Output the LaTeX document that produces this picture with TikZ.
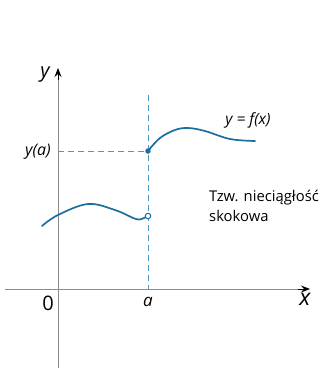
\documentclass[tikz,border=0pt]{standalone}
\usepackage{fontspec}
\setmainfont{Open Sans}
\usetikzlibrary{arrows.meta}
\definecolor{curve}{HTML}{1B6E9E}
\definecolor{dashc}{HTML}{4A98C6}
\definecolor{axisc}{HTML}{8C8C8C}
\tikzset{
  axis/.style={draw=axisc, line width=0.9pt},
  tip/.style={-{Stealth[length=9pt,width=7pt,inset=3pt]}},
  guide/.style={draw=dashc, line width=0.9pt, dash pattern=on 6pt off 4pt},
  fcurve/.style={draw=curve, line width=1.7pt, line cap=round},
  lab/.style={inner sep=0pt, font=\itshape},
}
\begin{document}
\begin{tikzpicture}[x=1pt,y=-1pt]
\useasboundingbox (0,0) rectangle (322,368);
\coordinate (ybot) at (58,368);
\coordinate (ytop) at (58,68);
\coordinate (xl) at (5,289);
\coordinate (xr) at (310,289);
\coordinate (atop) at (148,95);
\coordinate (aaxis) at (148,289);
\coordinate (ya) at (58,151);
\draw[axis] (ybot) -- (58,80);
\draw[axis] (xl) -- (298,289);
\draw[tip, draw=black, line width=0.9pt] (58,80) -- (ytop);
\draw[tip, draw=black, line width=0.9pt] (298,289) -- (xr);
\draw[guide] (atop) -- (aaxis);
\draw[guide] (ya) -- (148,151);
\draw[fcurve] plot[smooth, tension=0.6] coordinates {(148,151) (160,138) (175,130) (188,128) (205,131) (230,139) (255,141)};
\draw[fcurve] plot[smooth, tension=0.6] coordinates {(42,226) (58,215) (88,204) (115,210) (136,219) (144,218) (148,216)};
\node[circle, fill=curve, inner sep=0pt, minimum size=5.5pt] (closed) at (148,151) {};
\node[circle, draw=curve, fill=white, line width=1pt, inner sep=0pt, minimum size=5.5pt] (open) at (148,216) {};
\node[lab, font=\itshape\fontsize{20}{22}\selectfont] (ylab) at (45,75) {y};
\node[lab, font=\itshape\fontsize{23}{24}\selectfont] (xlab) at (305,299) {x};
\node[lab, font=\fontsize{20}{22}\selectfont] (zero) at (48,303) {0};
\node[lab, font=\itshape\fontsize{17}{18}\selectfont] (alab) at (148,302) {a};
\node[lab, font=\itshape\fontsize{16}{18}\selectfont] (yalab) at (38,152) {y(a)};
\node[lab, font=\itshape\fontsize{15.5}{17}\selectfont] (flab) at (248,120) {y = f(x)};
\node[anchor=west, inner sep=0pt, align=left, font=\fontsize{14.8}{20}\selectfont] (note) at (209,206) {Tzw. nieciągłość\\skokowa};
\end{tikzpicture}
\end{document}
